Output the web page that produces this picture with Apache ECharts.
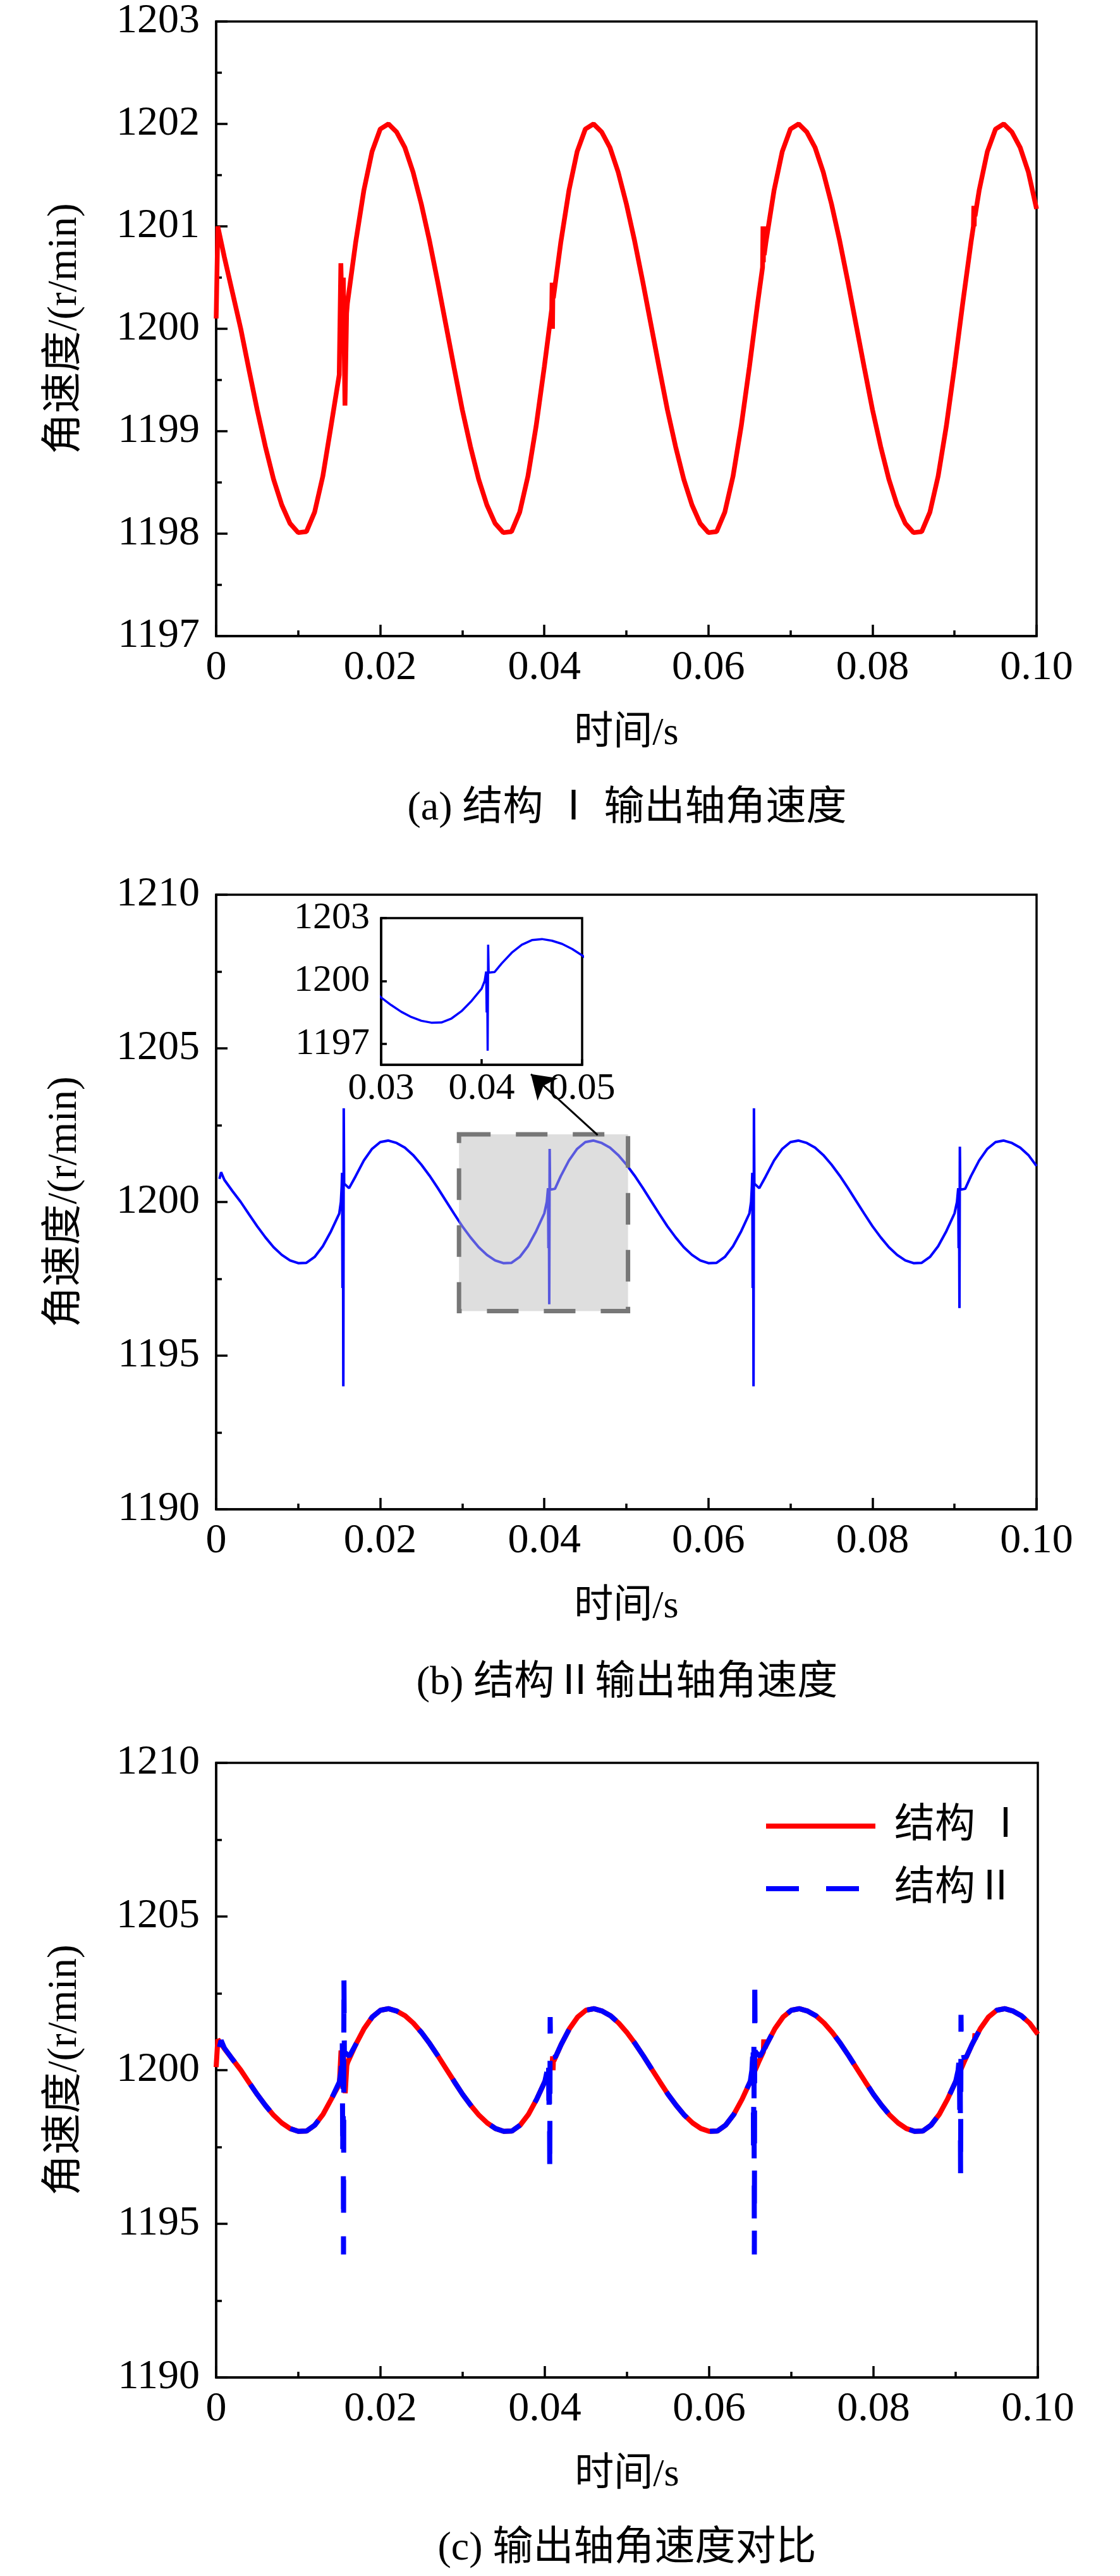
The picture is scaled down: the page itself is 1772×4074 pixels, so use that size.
<!DOCTYPE html>
<html><head><meta charset="utf-8">
<script src="https://cdn.jsdelivr.net/npm/echarts@6/dist/echarts.min.js"></script>
<style>html,body{margin:0;padding:0;background:#fff}#c{width:1772px;height:4074px}</style>
</head><body><div id="c"></div>
<script>
// ---------- data (time in ms, speed in r/min) ----------
const timeI = [0,0.2,1,2,3,4,5,6,7,8,9,10,11,12,13,14,15,15.2,15.4,15.5,15.7,15.9,16,
17,18,19,20,21,22,23,24,25,26,27,28,29,30,31,32,33,34,35,36,37,38,39,40,
40.9,40.95,41,41.05,41.1,
42,43,44,45,46,47,48,49,50,51,52,53,54,55,56,57,58,59,60,61,62,63,64,65,66,
66.6,66.65,66.7,66.75,66.8,
67,68,69,70,71,72,73,74,75,76,77,78,79,80,81,82,83,84,85,86,87,88,89,90,91,92,
92.3,92.35,92.4,92.45,92.5,
93,94,95,96,97,98,99,100];
const speedI = [1200.1,1201.0,1200.7,1200.35,1200.0,1199.6,1199.21,1198.85,1198.53,1198.28,1198.10,1198.01,1198.02,1198.21,1198.56,1199.05,1199.55,1200.64,1199.9,1200.5,1199.25,1200.15,1200.25,
1200.84,1201.35,1201.73,1201.95,1202.00,1201.92,1201.77,1201.53,1201.22,1200.86,1200.46,1200.04,1199.62,1199.21,1198.85,1198.53,1198.28,1198.10,1198.01,1198.02,1198.21,1198.56,1199.05,1199.63,
1200.19,1200.45,1200.0,1200.42,1200.3,
1200.84,1201.35,1201.73,1201.95,1202.00,1201.92,1201.77,1201.53,1201.22,1200.86,1200.46,1200.04,1199.62,1199.21,1198.85,1198.53,1198.28,1198.10,1198.01,1198.02,1198.21,1198.56,1199.05,1199.63,1200.25,
1200.6,1201.0,1200.65,1201.0,1200.72,
1200.84,1201.35,1201.73,1201.95,1202.00,1201.92,1201.77,1201.53,1201.22,1200.86,1200.46,1200.04,1199.62,1199.21,1198.85,1198.53,1198.28,1198.10,1198.01,1198.02,1198.21,1198.56,1199.05,1199.63,1200.25,1200.84,
1201.0,1201.2,1201.0,1201.2,1201.1,
1201.35,1201.73,1201.95,1202.00,1201.92,1201.77,1201.53,1201.17];

const timeII = [0.4,0.6,1,2,3,4,5,6,7,8,9,10,11,12,13,14,15,
15.2,15.3,15.35,15.4,15.45,15.5,15.55,15.6,16.2,
17,18,19,20,21,22,23,24,25,26,27,28,29,30,31,32,33,34,35,36,37,38,39,40,
40.3,40.45,40.5,40.55,40.6,40.65,40.7,41.3,
42,43,44,45,46,47,48,49,50,51,52,53,54,55,56,57,58,59,60,61,62,63,64,65,
65.2,65.3,65.35,65.4,65.45,65.5,65.55,65.6,66.2,
67,68,69,70,71,72,73,74,75,76,77,78,79,80,81,82,83,84,85,86,87,88,89,90,
90.3,90.45,90.5,90.55,90.6,90.65,90.7,91.3,
92,93,94,95,96,97,98,99,100];
const speedII = [1200.75,1200.97,1200.72,1200.35,1200.0,1199.6,1199.21,1198.85,1198.53,1198.28,1198.10,1198.01,1198.02,1198.21,1198.56,1199.05,1199.62,
1200.0,1200.5,1200.95,1197.2,1200.9,1194.0,1203.05,1200.6,1200.45,
1200.84,1201.35,1201.73,1201.95,1202.00,1201.92,1201.77,1201.53,1201.22,1200.86,1200.46,1200.04,1199.62,1199.21,1198.85,1198.53,1198.28,1198.10,1198.01,1198.02,1198.21,1198.56,1199.05,1199.63,
1200.0,1200.45,1198.5,1200.4,1196.67,1201.73,1200.4,1200.43,
1200.84,1201.35,1201.73,1201.95,1202.00,1201.92,1201.77,1201.53,1201.22,1200.86,1200.46,1200.04,1199.62,1199.21,1198.85,1198.53,1198.28,1198.10,1198.01,1198.02,1198.21,1198.56,1199.05,1199.63,
1200.0,1200.5,1200.95,1197.2,1200.9,1194.0,1203.05,1200.6,1200.45,
1200.84,1201.35,1201.73,1201.95,1202.00,1201.92,1201.77,1201.53,1201.22,1200.86,1200.46,1200.04,1199.62,1199.21,1198.85,1198.53,1198.28,1198.10,1198.01,1198.02,1198.21,1198.56,1199.05,1199.63,
1200.0,1200.45,1198.5,1200.4,1196.55,1201.8,1200.4,1200.43,
1200.84,1201.35,1201.73,1201.95,1202.00,1201.92,1201.77,1201.53,1201.17];

// zoom box [t0, v0, t1, v1] (s, r/min) and arrow [from, to]
const zoomBox = [0.0296, 1202.2, 0.0502, 1196.45];
const arrowFrom = [0.0465, 1202.18];
const arrowTo = [0.03837, 1204.16];

const xTicksMain = [0, 0.1, 0.02];          // min, max, interval
const yRangeA = [1197, 1203, 1];
const yRangeBC = [1190, 1210, 5];
const xRangeInset = [0.03, 0.05, 0.01];
const yRangeInset = [1196, 1203];
const yLabelsInset = [1197, 1200, 1203];

const captions = ['(a) 结构 Ⅰ 输出轴角速度', '(b) 结构Ⅱ输出轴角速度', '(c) 输出轴角速度对比'];
const seriesNames = ['结构 Ⅰ', '结构Ⅱ'];
const xName = '时间/s';
const yName = '角速度/(r/min)';

// ---------- build ----------
const FONT = "'Liberation Serif', 'Noto Sans CJK SC', serif";
function pairs(ts, vs) {
  const n = Math.min(ts.length, vs.length);
  const out = [];
  for (let i = 0; i < n; i++) out.push([ts[i] / 1000, vs[i]]);
  return out;
}
const dataI = pairs(timeI, speedI);
const dataII = pairs(timeII, speedII);

const BLACK = '#000';
const AX_W = 3.5;
const plain = v => String(v);
function mainX(g) {
  return {
    type: 'value', gridIndex: g, min: xTicksMain[0], max: xTicksMain[1], interval: xTicksMain[2],
    axisLine: { show: true, onZero: false, lineStyle: { color: BLACK, width: AX_W } },
    axisTick: { show: true, inside: true, length: 18, lineStyle: { color: BLACK, width: AX_W } },
    minorTick: { show: true, splitNumber: 2, length: 9, lineStyle: { color: BLACK, width: AX_W } },
    splitLine: { show: false }, minorSplitLine: { show: false },
    axisLabel: { color: BLACK, fontSize: 66, fontFamily: FONT, margin: 18,
      formatter: v => (Math.abs(v) < 1e-9 ? '0' : v.toFixed(2)) },
    name: xName, nameLocation: 'middle', nameGap: 124,
    nameTextStyle: { color: BLACK, fontSize: 62, fontFamily: FONT }
  };
}
function mainY(g, r) {
  return {
    type: 'value', gridIndex: g, min: r[0], max: r[1], interval: r[2],
    axisLine: { show: true, onZero: false, lineStyle: { color: BLACK, width: AX_W } },
    axisTick: { show: true, inside: true, length: 18, lineStyle: { color: BLACK, width: AX_W } },
    minorTick: { show: true, splitNumber: 2, length: 9, lineStyle: { color: BLACK, width: AX_W } },
    splitLine: { show: false }, minorSplitLine: { show: false },
    axisLabel: { color: BLACK, fontSize: 66, fontFamily: FONT, margin: 26, formatter: plain },
    name: yName, nameLocation: 'middle', nameGap: 207,
    nameTextStyle: { color: BLACK, fontSize: 65, fontFamily: FONT }
  };
}

const option = {
  animation: false,
  backgroundColor: '#fff',
  grid: [
    { left: 342, top: 34, width: 1298, height: 972, show: true, borderColor: BLACK, borderWidth: AX_W, backgroundColor: 'transparent' },
    { left: 342, top: 1415, width: 1298, height: 972, show: true, borderColor: BLACK, borderWidth: AX_W, backgroundColor: 'transparent' },
    { left: 603, top: 1452, width: 318, height: 232, show: true, borderColor: BLACK, borderWidth: 3.5, backgroundColor: '#fff' },
    { left: 342, top: 2788, width: 1300, height: 972, show: true, borderColor: BLACK, borderWidth: AX_W, backgroundColor: 'transparent' }
  ],
  xAxis: [
    mainX(0), mainX(1),
    {
      type: 'value', gridIndex: 2, min: xRangeInset[0], max: xRangeInset[1], interval: xRangeInset[2],
      axisLine: { show: true, onZero: false, lineStyle: { color: BLACK, width: 3.5 } },
      axisTick: { show: true, inside: true, length: 9, lineStyle: { color: BLACK, width: 3.5 } },
      splitLine: { show: false },
      axisLabel: { color: BLACK, fontSize: 60, fontFamily: FONT, margin: 8, formatter: v => v.toFixed(2) }
    },
    mainX(3)
  ],
  yAxis: [
    mainY(0, yRangeA), mainY(1, yRangeBC),
    {
      type: 'value', gridIndex: 2, min: yRangeInset[0], max: yRangeInset[1],
      axisLine: { show: true, onZero: false, lineStyle: { color: BLACK, width: 3.5 } },
      axisTick: { show: true, inside: true, length: 9, customValues: yLabelsInset, lineStyle: { color: BLACK, width: 3.5 } },
      splitLine: { show: false },
      axisLabel: { color: BLACK, fontSize: 60, fontFamily: FONT, margin: 18, customValues: yLabelsInset, formatter: plain }
    },
    mainY(3, yRangeBC)
  ],
  legend: {
    data: seriesNames, orient: 'vertical', left: 1203, top: 2851,
    itemWidth: 173, itemHeight: 20, itemGap: 35, selectedMode: false,
    itemStyle: { opacity: 0 },
    lineStyle: { width: 8 },
    textStyle: { color: BLACK, fontSize: 64, fontFamily: FONT, lineHeight: 64, padding: [0, 0, 0, 25] }
  },
  graphic: captions.map((c, i) => ({
    type: 'text', x: 992, y: [1279, 2662, 4031][i],
    style: { text: c, font: '64px ' + FONT, fill: BLACK, textAlign: 'center', textVerticalAlign: 'middle' }
  })),
  series: [
    { type: 'line', xAxisIndex: 0, yAxisIndex: 0, data: dataI, symbol: 'none', z: 2,
      lineStyle: { color: '#ff0000', width: 7.5 }, itemStyle: { color: '#ff0000' } },
    { type: 'line', xAxisIndex: 1, yAxisIndex: 1, data: dataII, symbol: 'none', z: 2,
      lineStyle: { color: '#0000ff', width: 4 }, itemStyle: { color: '#0000ff' },
      markLine: {
        silent: true, animation: false, symbol: ['none', 'arrow'], symbolSize: 36,
        label: { show: false },
        lineStyle: { color: BLACK, width: 3, type: 'solid' },
        data: [[{ coord: arrowFrom }, { coord: arrowTo }]]
      } },
    { type: 'custom', xAxisIndex: 1, yAxisIndex: 1, z: 3, silent: true, clip: false,
      data: [zoomBox], encode: { x: [0, 2], y: [1, 3] },
      renderItem: (params, api) => {
        const p0 = api.coord([api.value(0), api.value(1)]);
        const p1 = api.coord([api.value(2), api.value(3)]);
        return { type: 'rect',
          shape: { x: p0[0], y: p0[1], width: p1[0] - p0[0], height: p1[1] - p0[1] },
          style: { fill: 'rgba(187,187,187,0.48)', stroke: '#777', lineWidth: 7, lineDash: [50, 40] } };
      } },
    { type: 'line', xAxisIndex: 2, yAxisIndex: 2, data: dataII, symbol: 'none', z: 4, clip: true,
      lineStyle: { color: '#0000ff', width: 3.5 } },
    { name: seriesNames[0], type: 'line', xAxisIndex: 3, yAxisIndex: 3, data: dataI, symbol: 'none', z: 2,
      lineStyle: { color: '#ff0000', width: 8 }, itemStyle: { color: '#ff0000' } },
    { name: seriesNames[1], type: 'line', xAxisIndex: 3, yAxisIndex: 3, data: dataII, symbol: 'none', z: 3,
      lineStyle: { color: '#0000ff', width: 8, type: [52, 43] }, itemStyle: { color: '#0000ff' } }
  ]
};
const chart = echarts.init(document.getElementById('c'), null, { renderer: 'canvas' });
chart.setOption(option);
</script>
</body></html>
